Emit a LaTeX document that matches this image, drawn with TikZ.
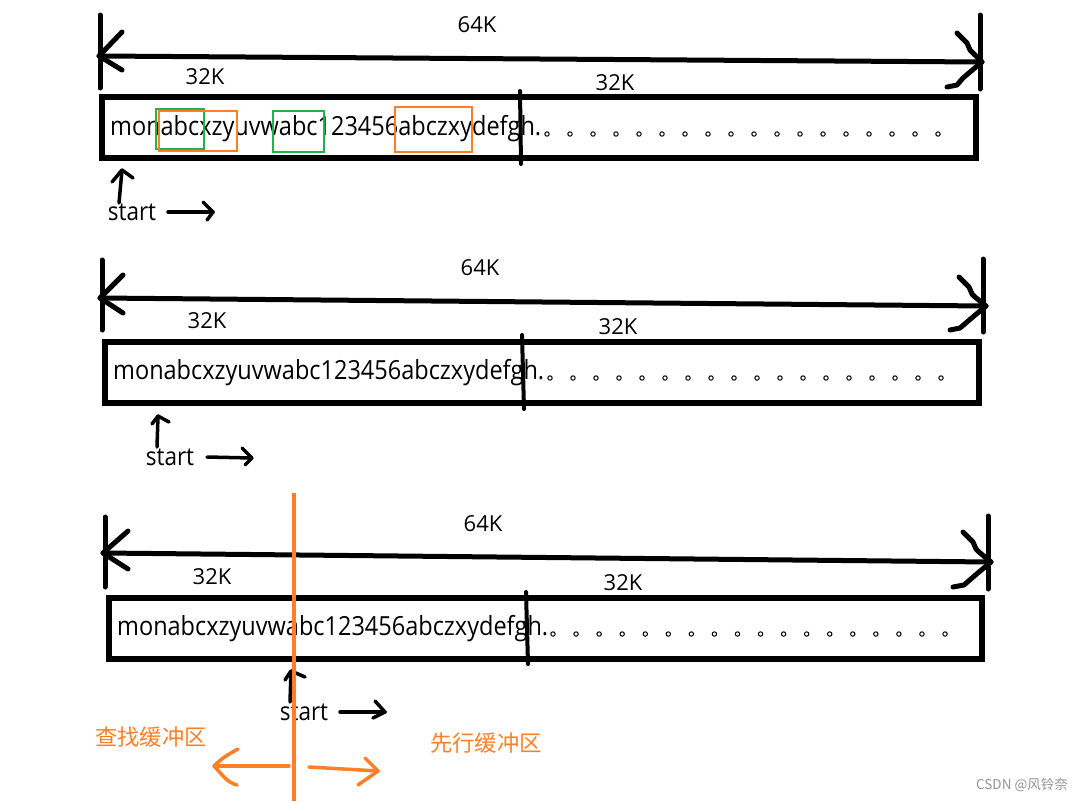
\documentclass[tikz,border=0pt]{standalone}
\usepackage{fontspec}
\setmainfont{Open Sans}
\newfontfamily\cjk{Noto Sans CJK SC}
\definecolor{porange}{HTML}{FF7F27}
\definecolor{pgreen}{HTML}{22B14C}
\newcommand{\tallt}[1]{\scalebox{1}[1.12]{#1}}
\begin{document}
\begin{tikzpicture}[x=1pt,y=-1pt,
  hand/.style={line width=5pt,line cap=round,line join=round},
  bufbox/.style={line width=5.5pt},
  divider/.style={line width=4pt,line cap=round},
  dotc/.style={line width=1pt},
  lbl/.style={inner sep=0pt,font=\fontsize{22}{26}\selectfont},
  strtext/.style={inner sep=0pt,anchor=base west,font=\fontsize{23.5}{28}\selectfont},
  starttxt/.style={inner sep=0pt,font=\fontsize{22.5}{27}\selectfont},
  gbox/.style={draw=pgreen,line width=2.5pt},
  obox/.style={draw=porange,line width=2.5pt},
  cjklbl/.style={inner sep=0pt,text=porange,font=\cjk\fontsize{22.3}{26}\selectfont},
  oarrow/.style={draw=porange,line width=3.5pt,line cap=round,line join=round}]
\useasboundingbox (0,0) rectangle (1084,801);
\fill[white] (0,0) rectangle (1084,801);

% ================= Panel 1 =================
\coordinate (a1l) at (99,56);
\coordinate (a1r) at (982,62);
\draw[hand] (100,15) -- (100,88);
\draw[hand] (980,15) -- (980,89);
\draw[hand] (a1l) -- (a1r);
\draw[hand] (122,32) -- (a1l) -- (122,70);
\draw[hand] (957,33) -- (967,43) -- (970,50) -- (973,53) -- (a1r) -- (970,72) -- (963,78) -- (957,85) -- (947,87);
\node[lbl] (k64a) at (477,25) {64K};
\node[lbl] (k32a) at (205,77) {32K};
\node[lbl] (k32b) at (615,83) {32K};
\draw[bufbox] (102,97) rectangle (976,158);
\node[strtext] (s1) at (110,135) {\tallt{monabcxzyuvwabc123456abczxydefgh.}};
\foreach \i in {0,...,17} \draw[dotc] (547+23*\i,134) circle (2.2pt);
\draw[divider] (520,91) -- (521,164);
\draw[gbox] (156,109) rectangle (204,149);
\draw[obox] (159,111) rectangle (237,151);
\draw[gbox] (273,111) rectangle (324,152);
\draw[obox] (395,107) rectangle (472,152);
\coordinate (u1a) at (119,203);
\coordinate (u1b) at (122,170);
\draw[hand,line width=3.5pt] (u1a) -- (u1b);
\draw[hand,line width=3.5pt] (112,182) -- (u1b) -- (133,178);
\node[starttxt] (st1) at (132,212) {\tallt{start}};
\coordinate (r1a) at (168,212);
\coordinate (r1b) at (213,212);
\draw[hand,line width=3.5pt] (r1a) -- (r1b);
\draw[hand,line width=3.5pt] (203,202) -- (r1b) -- (207,220);

% ================= Panel 2 =================
\coordinate (a2l) at (100,298);
\coordinate (a2r) at (986,306);
\draw[hand] (102,260) -- (102,330);
\draw[hand] (983,259) -- (983,332);
\draw[hand] (a2l) -- (a2r);
\draw[hand] (123,275) -- (a2l) -- (123,313);
\draw[hand] (959,277) -- (969,287) -- (972,294) -- (975,297) -- (a2r) -- (974,316) -- (967,322) -- (960,328) -- (950,330);
\node[lbl] (k64b) at (480,268) {64K};
\node[lbl] (k32c) at (207,321) {32K};
\node[lbl] (k32d) at (618,327) {32K};
\draw[bufbox] (105,342) rectangle (979,403);
\node[strtext] (s2) at (113,379) {\tallt{monabcxzyuvwabc123456abczxydefgh.}};
\foreach \i in {0,...,17} \draw[dotc] (550+23*\i,378) circle (2.2pt);
\draw[divider] (522,335) -- (524,409);
\coordinate (u2a) at (157,447);
\coordinate (u2b) at (158,416);
\draw[hand,line width=3.5pt] (u2a) -- (u2b);
\draw[hand,line width=3.5pt] (152,424) -- (u2b) -- (169,422);
\node[starttxt] (st2) at (170,457) {\tallt{start}};
\coordinate (r2a) at (207,457);
\coordinate (r2b) at (252,458);
\draw[hand,line width=3.5pt] (r2a) -- (r2b);
\draw[hand,line width=3.5pt] (242,448) -- (r2b) -- (245,465);

% ================= Panel 3 =================
\coordinate (a3l) at (103,553);
\coordinate (a3r) at (991,562);
\draw[hand] (105,517) -- (105,587);
\draw[hand] (988,516) -- (988,589);
\draw[hand] (a3l) -- (a3r);
\draw[hand] (128,531) -- (a3l) -- (128,569);
\draw[hand] (963,532) -- (973,542) -- (976,549) -- (979,552) -- (a3r) -- (979,572) -- (972,578) -- (964,585) -- (953,587);
\node[lbl] (k64c) at (483,524) {64K};
\node[lbl] (k32e) at (212,577) {32K};
\node[lbl] (k32f) at (623,583) {32K};
\draw[bufbox] (109,598) rectangle (982,659);
\node[strtext] (s3) at (117,635) {\tallt{monabcxzyuvwabc123456abczxydefgh.}};
\foreach \i in {0,...,17} \draw[dotc] (553+23.06*\i,634) circle (2.2pt);
\draw[divider] (526,592) -- (528,664);
\coordinate (u3a) at (290,702);
\coordinate (u3b) at (291,671);
\draw[hand,line width=3.5pt] (u3a) -- (u3b);
\draw[hand,line width=3.5pt] (285,680) -- (u3b) -- (305,677);
\node[starttxt] (st3) at (304,712) {\tallt{start}};
\coordinate (r3a) at (340,712);
\coordinate (r3b) at (385,712);
\draw[hand,line width=3.5pt] (r3a) -- (r3b);
\draw[hand,line width=3.5pt] (375,701) -- (r3b) -- (373,718);

% orange divider and buffers
\coordinate (ot) at (294,493);
\coordinate (ob) at (294,801);
\draw[draw=porange,line width=4pt] (ot) -- (ob);
\node[cjklbl] (look) at (151,737) {查找缓冲区};
\node[cjklbl] (ahead) at (486,743) {先行缓冲区};
\coordinate (la) at (289,766);
\coordinate (lb) at (214,766);
\draw[oarrow] (la) -- (lb);
\draw[oarrow] (238,749) .. controls (225,756) and (220,760) .. (lb) .. controls (222,774) and (226,782) .. (237,785);
\coordinate (ra) at (309,767);
\coordinate (rb) at (378,771);
\draw[oarrow] (ra) -- (rb);
\draw[oarrow] (365,758) -- (rb) -- (358,785);

% watermark
\node[inner sep=0pt,anchor=east,text=black!42,font=\cjk\fontsize{13.5}{16}\selectfont] (wm) at (1068,785) {CSDN @风铃奈};
\end{tikzpicture}
\end{document}
